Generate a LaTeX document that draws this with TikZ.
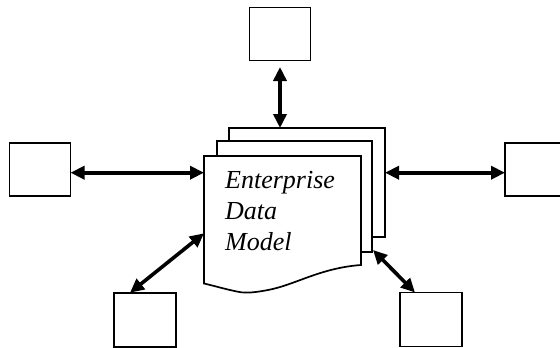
\documentclass[tikz,border=0pt]{standalone}
\usepackage{fontspec}
\setmainfont{Liberation Serif}
\usetikzlibrary{arrows.meta}
\tikzset{
  sbox/.style={draw=black, line width=1.8pt, fill=white, minimum width=61pt, minimum height=53pt, inner sep=0pt, outer sep=0pt},
  sheet/.style={draw=black, line width=1.7pt, fill=white},
  link/.style={line width=3.6pt, {Triangle[length=14pt,width=13pt]}-{Triangle[length=14pt,width=13pt]}}
}
\begin{document}
\begin{tikzpicture}[x=1pt,y=-1pt]
\useasboundingbox (0,0) rectangle (560,348);
% boxes
\node[sbox] (t)  at (280,34) {};
\node[sbox] (l)  at (40,169.2) {};
\node[sbox, minimum width=64pt] (r)  at (537,169.2) {};
\node[sbox, minimum width=62pt, minimum height=54pt] (bl) at (145,319.7) {};
\node[sbox, minimum width=62pt, minimum height=54pt] (br) at (431,319.5) {};
% document stack
\draw[sheet] (229,128) rectangle (385,237);
\draw[sheet] (217,141) rectangle (372,252);
\draw[sheet] (204,156) -- (361,156) -- (361,265)
  .. controls (320,268) and (295,285) .. (268,290)
  .. controls (255,292.5) and (248,293) .. (241,292.3)
  .. controls (228,290) and (215,286) .. (204,283.5) -- cycle;
\node[anchor=base west, align=left, inner sep=0pt, font=\fontsize{26}{31}\selectfont\itshape] (txt) at (225,250) {Enterprise\\Data\\Model};
% connector end points
\coordinate (dt) at (280,128);
\coordinate (dl) at (204,172.7);
\coordinate (dr) at (385,172.7);
\coordinate (dbl) at (204,233.3);
\coordinate (dbr) at (373,250);
% connectors
\draw[link, shorten <=6.5pt] (t.south) -- (dt);
\draw[link] (l.east |- dl) -- (dl);
\draw[link] (dr) -- (r.west |- dr);
\draw[link] (130,292.7) -- (dbl);
\draw[link] (dbr) -- (415,292.5);
\end{tikzpicture}
\end{document}
